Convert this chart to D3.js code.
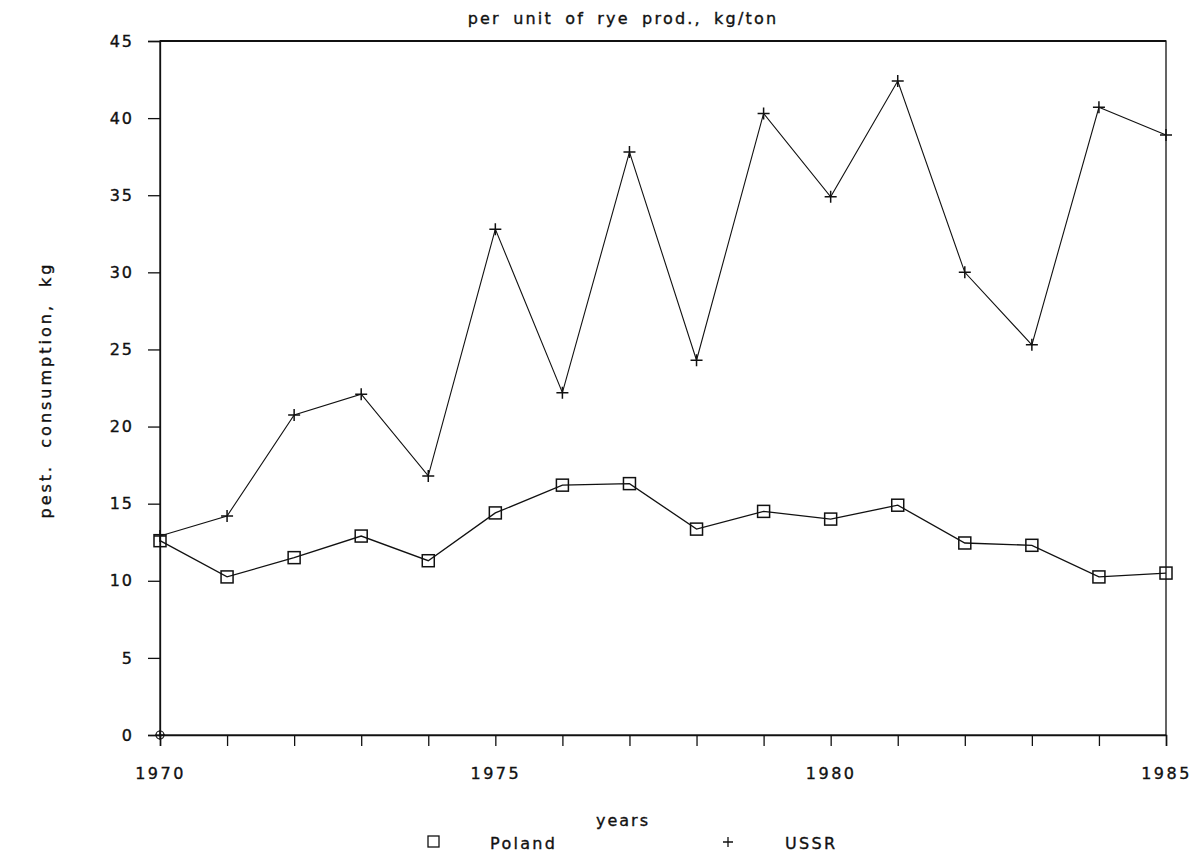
<!DOCTYPE html>
<html>
<head>
<meta charset="utf-8">
<script src="https://cdn.jsdelivr.net/npm/d3@7/dist/d3.min.js"></script>
<style>
body { margin: 0; background: #fff; }
text { font-family: "DejaVu Sans", sans-serif; fill: #111; stroke: #111; stroke-width: 0.35px; }
</style>
</head>
<body>
<svg id="chart" width="1204" height="854"></svg>
<script>
const years = [1970,1971,1972,1973,1974,1975,1976,1977,1978,1979,1980,1981,1982,1983,1984,1985];
const poland = [12.6,10.25,11.5,12.9,11.3,14.4,16.2,16.3,13.35,14.5,14.0,14.9,12.45,12.3,10.25,10.5];
const ussr = [12.9,14.2,20.75,22.1,16.8,32.8,22.2,37.8,24.3,40.3,34.9,42.4,30.0,25.3,40.7,38.9];
const xTickLabels = [1970,1975,1980,1985];
const yTicks = [0,5,10,15,20,25,30,35,40,45];
const title = "per unit of rye prod., kg/ton";
const xTitle = "years";
const yTitle = "pest. consumption, kg";
const seriesNames = ["Poland","USSR"];

const svg = d3.select("#chart");
const L = 160, R = 1166, T = 41, B = 735;
const x = d3.scaleLinear().domain([1970,1985]).range([L,R]);
const y = d3.scaleLinear().domain([0,45]).range([B,T]);

// frame
svg.append("rect").attr("x",L).attr("y",T).attr("width",R-L).attr("height",B-T)
  .attr("fill","none").attr("stroke","#111").attr("stroke-width",1.3);
svg.append("line").attr("x1",L).attr("x2",R).attr("y1",T).attr("y2",T).attr("stroke","#111").attr("stroke-width",2);

// x axis
const xAxis = d3.axisBottom(x).tickValues(years).tickSize(11)
  .tickFormat(d => xTickLabels.includes(d) ? d : "");
const gx = svg.append("g").attr("transform",`translate(0,${B})`).call(xAxis);
gx.select(".domain").attr("stroke","#111").attr("stroke-width",1.5);
gx.selectAll(".tick line").attr("stroke","#111").attr("stroke-width",1.3);
gx.selectAll(".tick text").attr("dy","0").attr("y",44)
  .style("font-size","16px").style("letter-spacing","2.5px").attr("fill","#111");

// y axis
const yAxis = d3.axisLeft(y).tickValues(yTicks).tickSize(12).tickPadding(14);
const gy = svg.append("g").attr("transform",`translate(${L},0)`).call(yAxis);
gy.select(".domain").attr("stroke","#111").attr("stroke-width",1.3);
gy.selectAll(".tick line").attr("stroke","#111").attr("stroke-width",1.3);
gy.selectAll(".tick text").style("font-size","16px").style("letter-spacing","2px").attr("fill","#111");

// lines
const line = d3.line().x((d,i) => x(years[i])).y(d => y(d));
svg.append("path").datum(poland).attr("d",line).attr("fill","none").attr("stroke","#111").attr("stroke-width",1.3);
svg.append("path").datum(ussr).attr("d",line).attr("fill","none").attr("stroke","#111").attr("stroke-width",1.1);

// markers
svg.selectAll(".sq").data(poland).enter().append("rect")
  .attr("x",(d,i)=>x(years[i])-6).attr("y",d=>y(d)-6).attr("width",12).attr("height",12)
  .attr("fill","none").attr("stroke","#111").attr("stroke-width",1.5);
svg.selectAll(".pl").data(ussr).enter().append("path")
  .attr("transform",(d,i)=>`translate(${x(years[i])},${y(d)})`)
  .attr("d","M-6,0H6M0,-6V6").attr("stroke","#111").attr("stroke-width",1.5);

// origin marker
svg.append("circle").attr("cx",x(1970)).attr("cy",y(0)).attr("r",4).attr("fill","none").attr("stroke","#111").attr("stroke-width",1.2);
svg.append("path").attr("transform",`translate(${x(1970)},${y(0)})`).attr("d","M-5,0H5M0,-5V5").attr("stroke","#111").attr("stroke-width",1.2);

// titles
svg.append("text").attr("x",623).attr("y",24).attr("text-anchor","middle")
  .style("font-size","16px").style("letter-spacing","2.2px").style("word-spacing","5px").text(title);
svg.append("text").attr("x",623).attr("y",826).attr("text-anchor","middle")
  .style("font-size","16px").style("letter-spacing","2px").text(xTitle);
svg.append("text").attr("transform","translate(51,390) rotate(-90)").attr("text-anchor","middle")
  .style("font-size","16px").style("letter-spacing","3px").style("word-spacing","8px").text(yTitle);

// legend
const leg = svg.append("g");
leg.append("rect").attr("x",428).attr("y",836).attr("width",11).attr("height",11)
  .attr("fill","none").attr("stroke","#111").attr("stroke-width",1.3);
leg.append("text").attr("x",490).attr("y",849).style("font-size","16px").style("letter-spacing","2.3px").text(seriesNames[0]);
leg.append("path").attr("transform","translate(728,842)").attr("d","M-5,0H5M0,-5V5").attr("stroke","#111").attr("stroke-width",1.3);
leg.append("text").attr("x",785).attr("y",849).style("font-size","16px").style("letter-spacing","2.3px").text(seriesNames[1]);
</script>
</body>
</html>
